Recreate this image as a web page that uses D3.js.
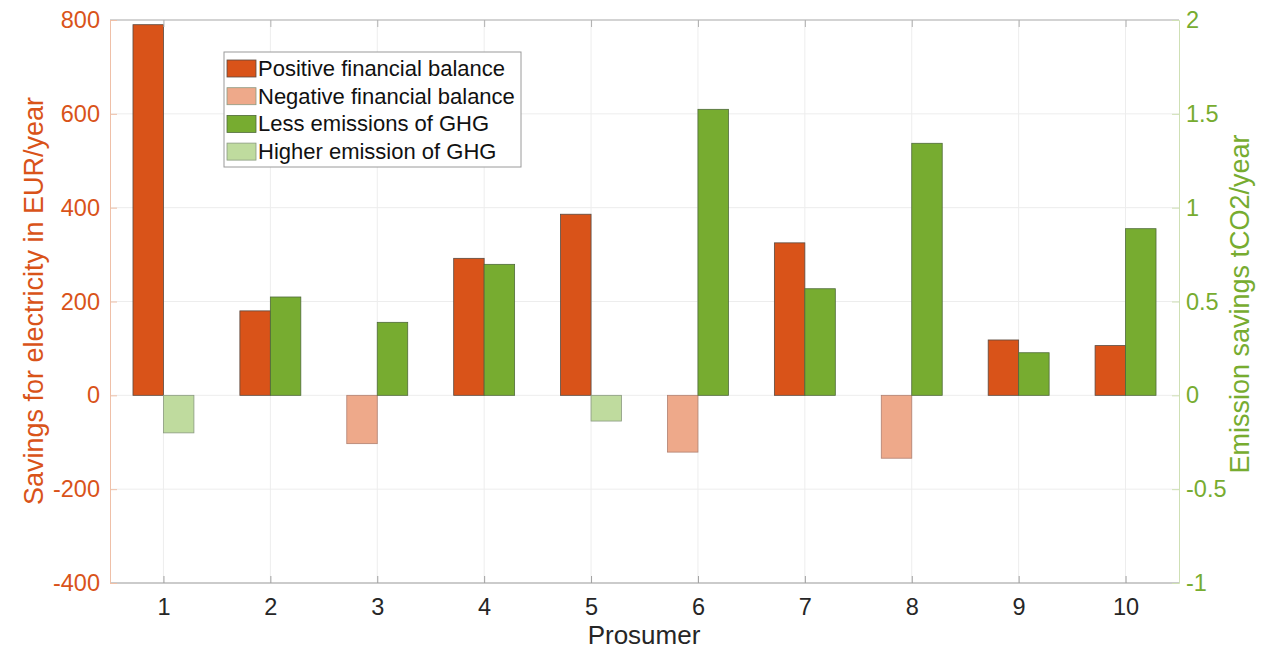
<!DOCTYPE html>
<html>
<head>
<meta charset="utf-8">
<script src="https://cdn.jsdelivr.net/npm/d3@7"></script>
<style>
  html, body { margin: 0; padding: 0; background: #ffffff; }
  svg { display: block; font-family: "Liberation Sans", Arial, Helvetica, sans-serif; }
</style>
</head>
<body>
<svg id="chart" width="1276" height="652"></svg>
<script>
// ---- data ----
const prosumers = [1, 2, 3, 4, 5, 6, 7, 8, 9, 10];
const financialBalance = [790, 180, -103, 292, 386, -121, 325, -134, 118, 106]; // EUR/year
const emissionSavings = [-0.20, 0.524, 0.389, 0.698, -0.137, 1.524, 0.568, 1.343, 0.227, 0.888]; // tCO2/year
const leftTicks = [-400, -200, 0, 200, 400, 600, 800];
const rightTicks = [-1, -0.5, 0, 0.5, 1, 1.5, 2];
const legendLabels = ["Positive financial balance", "Negative financial balance", "Less emissions of GHG", "Higher emission of GHG"];

// ---- styles ----
const colPos = "#D95319", colNeg = "#EEA98A", colLess = "#77AC30", colHigher = "#BFDB9E";
const edgeDark = "#5a4a40", edgeLight = "#8a9a80";
const legendColors = [colPos, colNeg, colLess, colHigher];
const tickFont = 23.5, titleFont = 27;

const svg = d3.select("#chart");
const L = 110, R = 1179, T = 20, B = 583;

const x = d3.scaleLinear().domain([0.5, 10.5]).range([L, R]);
const yL = d3.scaleLinear().domain([-400, 800]).range([B, T]);
const yR = d3.scaleLinear().domain([-1, 2]).range([B, T]);
const bw = 0.285;

// grid
const grid = svg.append("g");
grid.selectAll("line.h").data(leftTicks).enter().append("line")
  .attr("x1", L).attr("x2", R).attr("y1", d => yL(d)).attr("y2", d => yL(d))
  .attr("stroke", "#ededed").attr("stroke-width", 1);
grid.selectAll("line.v").data(prosumers).enter().append("line")
  .attr("y1", T).attr("y2", B).attr("x1", d => x(d)).attr("x2", d => x(d))
  .attr("stroke", "#ededed").attr("stroke-width", 1);

// bars
const bars = svg.append("g");
bars.selectAll("rect.fin").data(prosumers).enter().append("rect")
  .attr("x", (d) => x(d - bw))
  .attr("width", x(bw) - x(0))
  .attr("y", (d, i) => yL(Math.max(0, financialBalance[i])))
  .attr("height", (d, i) => Math.abs(yL(financialBalance[i]) - yL(0)))
  .attr("fill", (d, i) => financialBalance[i] >= 0 ? colPos : colNeg)
  .attr("stroke", (d, i) => financialBalance[i] >= 0 ? edgeDark : "#b08070")
  .attr("stroke-width", 0.8);
bars.selectAll("rect.em").data(prosumers).enter().append("rect")
  .attr("x", (d) => x(d))
  .attr("width", x(bw) - x(0))
  .attr("y", (d, i) => yR(Math.max(0, emissionSavings[i])))
  .attr("height", (d, i) => Math.abs(yR(emissionSavings[i]) - yR(0)))
  .attr("fill", (d, i) => emissionSavings[i] >= 0 ? colLess : colHigher)
  .attr("stroke", (d, i) => emissionSavings[i] >= 0 ? "#4f6a3a" : edgeLight)
  .attr("stroke-width", 0.8);

// box lines
svg.append("line").attr("x1", L).attr("x2", R).attr("y1", T).attr("y2", T).attr("stroke", "#b0b0b0");
svg.append("line").attr("x1", L).attr("x2", R).attr("y1", B).attr("y2", B).attr("stroke", "#a0a0a0");

// axes
const fmt = d => String(d);
const axL = d3.axisLeft(yL).tickValues(leftTicks).tickSize(-7).tickPadding(10).tickFormat(fmt);
const gL = svg.append("g").attr("transform", `translate(${L},0)`).call(axL);
gL.select(".domain").attr("stroke", "#efc0a8");
gL.selectAll(".tick line").attr("stroke", "#efc0a8");
gL.selectAll(".tick text").attr("fill", colPos).attr("font-size", tickFont)
  .attr("font-family", "Liberation Sans, Arial, sans-serif");

const axR = d3.axisRight(yR).tickValues(rightTicks).tickSize(-7).tickPadding(7).tickFormat(fmt);
const gR = svg.append("g").attr("transform", `translate(${R},0)`).call(axR);
gR.select(".domain").attr("stroke", "#cfe0b5");
gR.selectAll(".tick line").attr("stroke", "#cfe0b5");
gR.selectAll(".tick text").attr("fill", colLess).attr("font-size", tickFont)
  .attr("font-family", "Liberation Sans, Arial, sans-serif");

const axB = d3.axisBottom(x).tickValues(prosumers).tickSize(-7).tickPadding(15).tickFormat(fmt);
const gB = svg.append("g").attr("transform", `translate(0,${B})`).call(axB);
gB.select(".domain").remove();
gB.selectAll(".tick line").attr("stroke", "#a0a0a0");
gB.selectAll(".tick text").attr("fill", "#262626").attr("font-size", tickFont)
  .attr("font-family", "Liberation Sans, Arial, sans-serif");

const axT = d3.axisTop(x).tickValues(prosumers).tickSize(-7).tickFormat("");
const gT = svg.append("g").attr("transform", `translate(0,${T})`).call(axT);
gT.select(".domain").remove();
gT.selectAll(".tick line").attr("stroke", "#b0b0b0");

// axis titles
svg.append("text").attr("transform", `translate(43,301) rotate(-90)`)
  .attr("text-anchor", "middle").attr("fill", colPos).attr("font-size", titleFont)
  .text("Savings for electricity in EUR/year");
svg.append("text").attr("transform", `translate(1249,304) rotate(-90)`)
  .attr("text-anchor", "middle").attr("fill", colLess).attr("font-size", titleFont)
  .text("Emission savings tCO2/year");
svg.append("text").attr("x", 644).attr("y", 644)
  .attr("text-anchor", "middle").attr("fill", "#262626").attr("font-size", 26)
  .text("Prosumer");

// legend
const lg = svg.append("g").attr("transform", "translate(224,52)");
lg.append("rect").attr("x", 0).attr("y", 0).attr("width", 297).attr("height", 115)
  .attr("fill", "#ffffff").attr("stroke", "#9a9a9a").attr("stroke-width", 1);
const items = lg.selectAll("g.item").data(legendLabels).enter().append("g")
  .attr("transform", (d, i) => `translate(3,${8 + i * 27.7})`);
items.append("rect").attr("width", 29).attr("height", 17)
  .attr("fill", (d, i) => legendColors[i])
  .attr("stroke", (d, i) => i === 0 ? edgeDark : (i === 2 ? "#4f6a3a" : edgeLight)).attr("stroke-width", 0.8);
items.append("text").attr("x", 31).attr("y", 16).attr("font-size", 22).attr("fill", "#111")
  .text(d => d);
</script>
</body>
</html>
